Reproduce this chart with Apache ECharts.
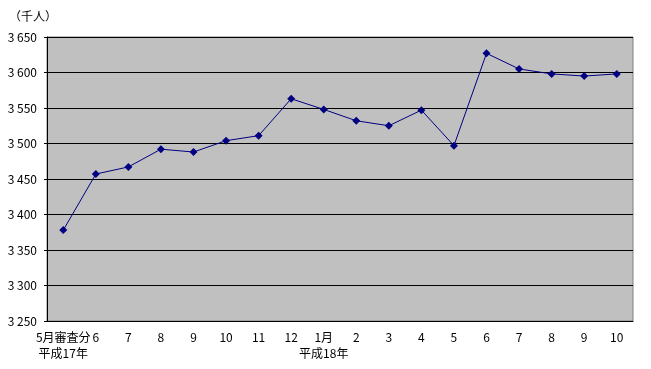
<!DOCTYPE html>
<html><head><meta charset="utf-8">
<script src="https://cdn.jsdelivr.net/npm/echarts@6/dist/echarts.min.js"></script>
<style>html,body{margin:0;padding:0;background:#fff}#c{width:651px;height:369px}</style>
</head><body><div id="c"></div>
<script>
const categories = ["5月審査分\n平成17年","6","7","8","9","10","11","12","1月\n平成18年","2","3","4","5","6","7","8","9","10"];
const values = [3378,3457,3467,3492,3488,3504,3511,3563,3548,3532,3525,3547,3497,3627,3605,3598,3595,3598];
const yMin = 3250, yMax = 3650, yStep = 50;
const unitLabel = "（千人）";

const chart = echarts.init(document.getElementById('c'));
const font = '"Noto Sans CJK JP", sans-serif';
chart.setOption({
  animation:false,
  title:{text:unitLabel,left:4,top:5,textStyle:{fontSize:12,fontWeight:'normal',color:'#000',fontFamily:font}},
  grid:{left:47,right:18,top:37,bottom:48,show:true,backgroundColor:'#c0c0c0',borderColor:'#808080',borderWidth:1},
  xAxis:{type:'category',data:categories,boundaryGap:true,
    axisLine:{lineStyle:{color:'#000',width:1}},
    axisTick:{inside:true,length:4,lineStyle:{color:'#000'}},
    axisLabel:{color:'#000',fontSize:12,fontFamily:font,margin:8,lineHeight:16,interval:0}},
  yAxis:{type:'value',min:yMin,max:yMax,interval:yStep,
    axisLine:{show:true,lineStyle:{color:'#000'}},
    axisTick:{show:true,length:3,lineStyle:{color:'#000'}},
    splitLine:{lineStyle:{color:'#000',width:1}},
    axisLabel:{color:'#000',fontSize:12,fontFamily:font,margin:10,
      formatter:v=>{const s=String(v);return s.length>3?s.slice(0,s.length-3)+' '+s.slice(-3):s;}}},
  series:[{type:'line',data:values,symbol:'diamond',symbolSize:8,
    lineStyle:{color:'#000080',width:1},itemStyle:{color:'#000080'}}]
});
</script></body></html>
